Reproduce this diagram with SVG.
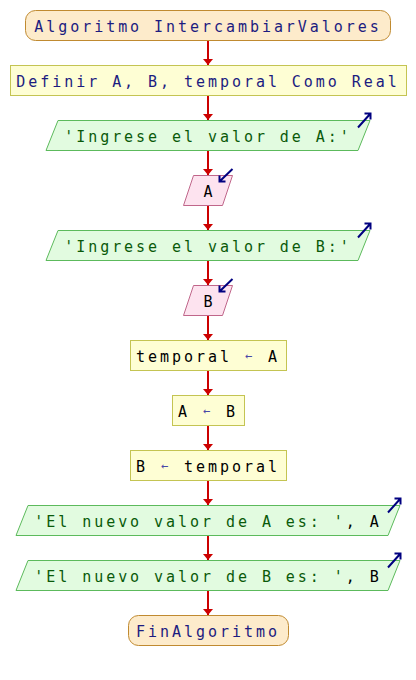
<svg xmlns="http://www.w3.org/2000/svg" width="416" height="680" viewBox="0 0 416 680">
<defs>
<style>
text{font-family:"DejaVu Sans Mono","Liberation Mono",monospace;font-size:15px;letter-spacing:2.95px;text-anchor:middle;fill:#000}
.kw{fill:#1c1c80}
.str{fill:#0a5a0a}
.op{fill:#4848a8;font-size:12px;letter-spacing:3.8px}
.term{fill:#fdebcb;stroke:#c08a30;stroke-width:1}
.proc{fill:#fefed4;stroke:#c4c452;stroke-width:1}
.out{fill:#e2fbe0;stroke:#5cba5c;stroke-width:1}
.in{fill:#fde3ef;stroke:#c0668a;stroke-width:1}
.conn{stroke:#cc0000;stroke-width:2;fill:none;marker-end:url(#ah)}
.icon{stroke:#000080;stroke-width:2;fill:none}
</style>
<marker id="ah" markerUnits="userSpaceOnUse" viewBox="0 0 6 10" markerWidth="6" markerHeight="10" refX="6" refY="5" orient="auto">
<path d="M0,0 L6,5 L0,10 z" fill="#cc0000"/>
</marker>
</defs>
<rect width="416" height="680" fill="#fff"/>
<g id="connectors">
<line class="conn" x1="208" y1="40.5" x2="208" y2="65"/>
<line class="conn" x1="208" y1="95.5" x2="208" y2="120"/>
<line class="conn" x1="208" y1="150.5" x2="208" y2="175"/>
<line class="conn" x1="208" y1="205.5" x2="208" y2="230"/>
<line class="conn" x1="208" y1="260.5" x2="208" y2="285"/>
<line class="conn" x1="208" y1="315.5" x2="208" y2="340"/>
<line class="conn" x1="208" y1="370.5" x2="208" y2="395"/>
<line class="conn" x1="208" y1="425.5" x2="208" y2="450"/>
<line class="conn" x1="208" y1="480.5" x2="208" y2="505"/>
<line class="conn" x1="208" y1="535.5" x2="208" y2="560"/>
<line class="conn" x1="208" y1="590.5" x2="208" y2="615"/>
</g>
<g id="start">
<rect class="term" x="25.5" y="10.5" width="365" height="30" rx="10" ry="10"/>
<text x="208" y="31.5" class="kw">Algoritmo IntercambiarValores</text>
</g>
<g id="define">
<rect class="proc" x="10.5" y="65.5" width="396" height="30"/>
<text x="208" y="86.5" class="kw">Definir A, B, temporal Como Real</text>
</g>
<g id="out1">
<polygon class="out" points="58,120.5 370,120.5 358,150.5 46,150.5"/>
<text x="208" y="141.5" class="str">'Ingrese el valor de A:'</text>
<path class="icon" d="M358,127.5 L370.5,113.5 M364.5,113.5 L370.5,113.5 L370.5,119.5"/>
</g>
<g id="inA">
<polygon class="in" points="193.5,175.5 232.5,175.5 222.5,205.5 183.5,205.5"/>
<text x="209.5" y="196.5">A</text>
<path class="icon" d="M232.5,169 L219.5,181.5 M219.5,175.5 L219.5,181.5 L225.5,181.5"/>
</g>
<g id="out2">
<polygon class="out" points="58,230.5 370,230.5 358,260.5 46,260.5"/>
<text x="208" y="251.5" class="str">'Ingrese el valor de B:'</text>
<path class="icon" d="M358,237.5 L370.5,223.5 M364.5,223.5 L370.5,223.5 L370.5,229.5"/>
</g>
<g id="inB">
<polygon class="in" points="193.5,285.5 232.5,285.5 222.5,315.5 183.5,315.5"/>
<text x="209.5" y="306.5">B</text>
<path class="icon" d="M232.5,279 L219.5,291.5 M219.5,285.5 L219.5,291.5 L225.5,291.5"/>
</g>
<g id="assign1">
<rect class="proc" x="130.5" y="340.5" width="156" height="30"/>
<text x="208" y="361.5">temporal <tspan class="op" dx="1" dy="-1.5">←</tspan><tspan dy="1.5"> A</tspan></text>
</g>
<g id="assign2">
<rect class="proc" x="172.5" y="395.5" width="72" height="30"/>
<text x="208" y="416.5">A <tspan class="op" dx="1" dy="-1.5">←</tspan><tspan dy="1.5"> B</tspan></text>
</g>
<g id="assign3">
<rect class="proc" x="130.5" y="450.5" width="156" height="30"/>
<text x="208" y="471.5">B <tspan class="op" dx="1" dy="-1.5">←</tspan><tspan dy="1.5"> temporal</tspan></text>
</g>
<g id="out3">
<polygon class="out" points="28,505.5 400,505.5 388,535.5 16,535.5"/>
<text x="208" y="526.5"><tspan class="str">'El nuevo valor de A es: '</tspan>, A</text>
<path class="icon" d="M388,512.5 L400.5,498.5 M394.5,498.5 L400.5,498.5 L400.5,504.5"/>
</g>
<g id="out4">
<polygon class="out" points="28,560.5 400,560.5 388,590.5 16,590.5"/>
<text x="208" y="581.5"><tspan class="str">'El nuevo valor de B es: '</tspan>, B</text>
<path class="icon" d="M388,567.5 L400.5,553.5 M394.5,553.5 L400.5,553.5 L400.5,559.5"/>
</g>
<g id="end">
<rect class="term" x="128.5" y="615.5" width="160" height="30" rx="10" ry="10"/>
<text x="208" y="636.5" class="kw">FinAlgoritmo</text>
</g>
</svg>
